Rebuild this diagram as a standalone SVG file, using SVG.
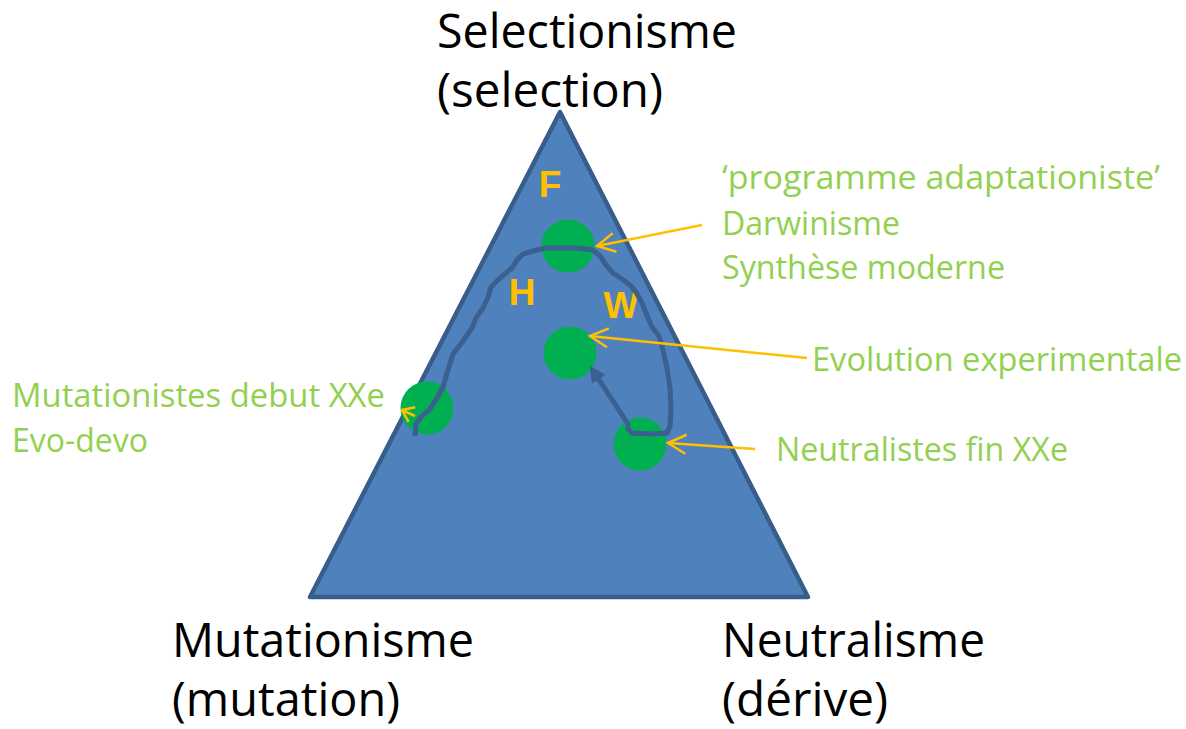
<svg xmlns="http://www.w3.org/2000/svg" width="1186" height="729" viewBox="0 0 1186 729">
  <style>
    .axis { font-family: "Open Sans", "Noto Sans", "Liberation Sans", sans-serif; font-size: 48px; fill: #000000; }
    .school { font-family: "Open Sans", "Noto Sans", "Liberation Sans", sans-serif; font-size: 33.5px; fill: #92d050; }
    .mark { font-family: "Liberation Sans", "DejaVu Sans", sans-serif; font-size: 37px; font-weight: bold; fill: #ffc000; text-anchor: middle; }
    .spot { fill: #00b050; }
    .pointer { fill: none; stroke: #ffc000; stroke-width: 2.5; }
    .route { fill: none; stroke: #3b5f8f; stroke-width: 5; stroke-linejoin: round; stroke-linecap: butt; }
  </style>
  <defs>
    <marker id="openHead" markerUnits="userSpaceOnUse" viewBox="-22 -12 26 24" markerWidth="26" markerHeight="24" refX="0" refY="0" orient="auto" overflow="visible">
      <path d="M-18,-9.5 L0,0 L-18,9.5" fill="none" stroke="#ffc000" stroke-width="2.5"/>
    </marker>
    <marker id="openHeadSmall" markerUnits="userSpaceOnUse" viewBox="-16 -12 20 24" markerWidth="20" markerHeight="24" refX="0" refY="0" orient="auto" overflow="visible">
      <path d="M-11,-8 L0,0 L-11,8" fill="none" stroke="#ffc000" stroke-width="2.5"/>
    </marker>
    <marker id="solidHead" markerUnits="userSpaceOnUse" viewBox="-16 -10 18 20" markerWidth="18" markerHeight="20" refX="-2" refY="0" orient="auto" overflow="visible">
      <path d="M-14,-8 L2,0 L-14,8 Z" fill="#3b5f8f"/>
    </marker>
  </defs>

  <!-- ternary triangle -->
  <g id="triangle">
    <polygon points="560,112 310,597 808,597" fill="#4f81bd" stroke="#385d8a" stroke-width="4.5" stroke-linejoin="round"/>
  </g>

  <!-- corner labels -->
  <g id="corner-selection">
    <text class="axis" x="437" y="48" textLength="300" lengthAdjust="spacingAndGlyphs">Selectionisme</text>
    <text class="axis" x="437" y="107" textLength="226" lengthAdjust="spacingAndGlyphs">(selection)</text>
  </g>
  <g id="corner-mutation">
    <text class="axis" x="172" y="657" textLength="302" lengthAdjust="spacingAndGlyphs">Mutationisme</text>
    <text class="axis" x="172" y="716" textLength="228" lengthAdjust="spacingAndGlyphs">(mutation)</text>
  </g>
  <g id="corner-drift">
    <text class="axis" x="722" y="657" textLength="263" lengthAdjust="spacingAndGlyphs">Neutralisme</text>
    <text class="axis" x="722" y="716" textLength="166" lengthAdjust="spacingAndGlyphs">(dérive)</text>
  </g>

  <!-- positions of the schools -->
  <g id="spot-darwinism"><circle class="spot" cx="568" cy="246" r="26.5"/></g>
  <g id="spot-experimental"><circle class="spot" cx="570" cy="353" r="26.5"/></g>
  <g id="spot-mutationists"><circle class="spot" cx="427" cy="408" r="26.5"/></g>
  <g id="spot-neutralists"><circle class="spot" cx="640" cy="444" r="26.5"/></g>

  <!-- letters F, H, W -->
  <g id="mark-F"><text class="mark" x="550" y="197">F</text></g>
  <g id="mark-H"><text class="mark" x="522" y="305">H</text></g>
  <g id="mark-W"><text class="mark" x="621" y="318">W</text></g>

  <!-- connectors -->
  <g id="connectors">
    <path class="route" marker-end="url(#solidHead)" d="M415,436 L416,424 L421,417 L430,409 L437,398 L443,387 L447,373 L453,354 L463,341 L472,328 L476,318 L483,308 L488,297 L491,287 L500,278 L512,268 L517,260 L523,254 L533,251 L545,248 L575,248 L593,250 L600,256 L606,265 L613,273 L622,279 L630,285 L636,292 L642,303 L648,318 L652,327 L659,336 L663,350 L667,368 L670,388 L671,410 L670,426 L667,433 L650,434 L632,433 L628,429 L628,424 L592,369"/>
    <line class="pointer" x1="702" y1="225" x2="597" y2="246" marker-end="url(#openHead)"/>
    <line class="pointer" x1="807" y1="358" x2="590" y2="336" marker-end="url(#openHead)"/>
    <line class="pointer" x1="755" y1="449" x2="668" y2="443" marker-end="url(#openHead)"/>
    <line class="pointer" x1="415" y1="416" x2="402" y2="410" marker-end="url(#openHeadSmall)"/>
  </g>

  <!-- school labels -->
  <g id="label-darwinism">
    <text class="school" x="722" y="189" textLength="438" lengthAdjust="spacingAndGlyphs">‘programme adaptationiste’</text>
    <text class="school" x="722" y="235" textLength="178" lengthAdjust="spacingAndGlyphs">Darwinisme</text>
    <text class="school" x="722" y="279" textLength="283" lengthAdjust="spacingAndGlyphs">Synthèse moderne</text>
  </g>
  <g id="label-experimental">
    <text class="school" x="812" y="371" textLength="370" lengthAdjust="spacingAndGlyphs">Evolution experimentale</text>
  </g>
  <g id="label-neutralists">
    <text class="school" x="776" y="461" textLength="292" lengthAdjust="spacingAndGlyphs">Neutralistes fin XXe</text>
  </g>
  <g id="label-mutationists">
    <text class="school" x="12" y="407" textLength="373" lengthAdjust="spacingAndGlyphs">Mutationistes debut XXe</text>
    <text class="school" x="12" y="452" textLength="136" lengthAdjust="spacingAndGlyphs">Evo-devo</text>
  </g>
</svg>
